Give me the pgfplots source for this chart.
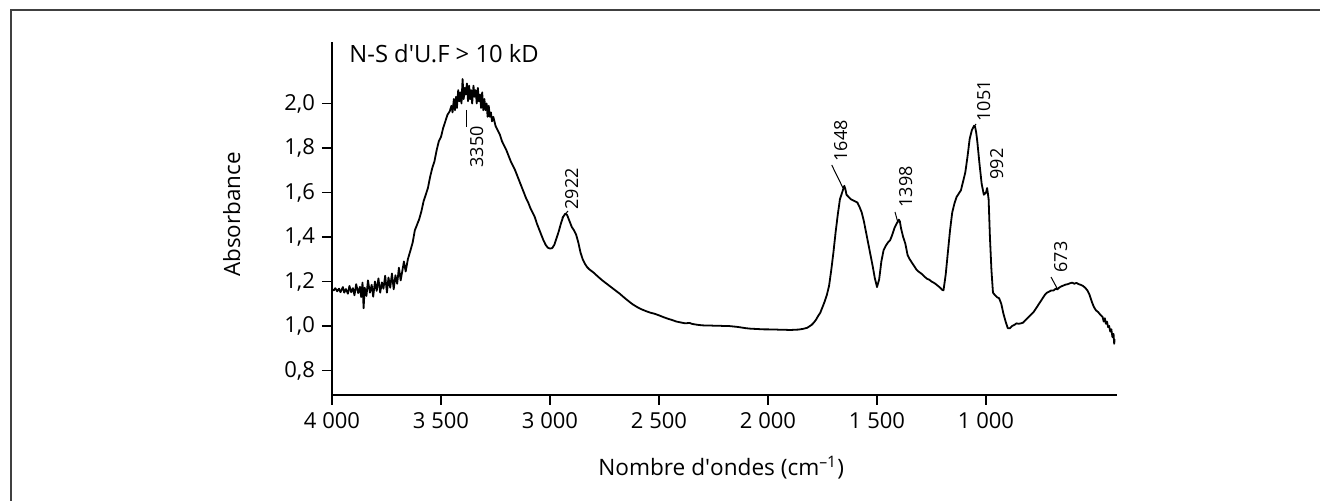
\documentclass[border=0pt]{standalone}
\usepackage{fontspec}
\setmainfont{Open Sans}
\newfontfamily\ofq{Open Sans}
\usepackage{pgfplots}
\pgfplotsset{compat=1.18}

% spectrum (wavenumber, absorbance)
\pgfplotstableread{
w v
4000 1.165
3992 1.160
3985 1.170
3976 1.156
3968 1.168
3961 1.152
3950 1.175
3944 1.150
3936 1.166
3927 1.145
3920 1.180
3912 1.152
3904 1.170
3897 1.138
3889 1.188
3880 1.148
3872 1.176
3866 1.130
3860 1.195
3855 1.080
3850 1.172
3842 1.135
3835 1.205
3826 1.150
3818 1.185
3811 1.132
3803 1.200
3795 1.158
3787 1.214
3779 1.150
3771 1.196
3764 1.168
3756 1.226
3748 1.150
3741 1.218
3733 1.172
3725 1.236
3717 1.165
3709 1.228
3701 1.190
3693 1.262
3685 1.205
3677 1.250
3670 1.290
3662 1.245
3652 1.300
3640 1.340
3630 1.375
3620 1.430
3610 1.455
3600 1.480
3590 1.515
3580 1.560
3570 1.590
3560 1.620
3550 1.670
3540 1.710
3530 1.740
3520 1.790
3510 1.830
3500 1.850
3490 1.890
3480 1.920
3470 1.950
3460 1.965
3452 1.99
3447 1.96
3441 2.02
3436 1.97
3431 2.03
3427 1.98
3421 2.06
3416 2.01
3411 2.05
3406 2.00
3401 2.11
3396 2.02
3391 2.07
3387 2.04
3381 2.09
3376 2.01
3371 2.08
3366 2.02
3362 2.06
3357 2.00
3351 2.08
3346 2.03
3341 2.06
3336 2.00
3331 2.07
3326 2.01
3321 2.04
3316 1.98
3311 2.05
3306 1.97
3301 2.02
3296 1.97
3291 2.00
3286 1.94
3281 1.99
3276 1.94
3271 1.96
3266 1.92
3260 1.94
3250 1.90
3240 1.88
3230 1.86
3220 1.83
3210 1.81
3200 1.79
3190 1.765
3180 1.74
3170 1.72
3160 1.70
3150 1.675
3140 1.65
3130 1.625
3120 1.60
3110 1.575
3100 1.555
3090 1.53
3080 1.51
3070 1.49
3060 1.46
3050 1.435
3040 1.41
3030 1.385
3020 1.365
3010 1.352
3000 1.348
2990 1.350
2980 1.365
2970 1.395
2960 1.425
2950 1.460
2940 1.490
2930 1.505
2922 1.500
2910 1.470
2900 1.445
2890 1.430
2880 1.410
2870 1.375
2860 1.330
2850 1.300
2840 1.280
2830 1.265
2820 1.255
2800 1.240
2780 1.222
2760 1.205
2740 1.190
2720 1.175
2700 1.160
2680 1.145
2660 1.128
2640 1.112
2620 1.097
2600 1.085
2580 1.075
2560 1.067
2540 1.060
2520 1.055
2500 1.048
2480 1.040
2460 1.033
2440 1.027
2420 1.020
2400 1.016
2380 1.012
2360 1.014
2350 1.010
2340 1.008
2320 1.005
2300 1.003
2280 1.002
2260 1.002
2240 1.001
2220 1.001
2200 1.000
2180 1.000
2160 0.998
2140 0.996
2120 0.993
2100 0.990
2080 0.988
2060 0.987
2040 0.986
2020 0.985
2000 0.985
1980 0.984
1960 0.984
1940 0.983
1920 0.983
1900 0.982
1880 0.983
1860 0.984
1840 0.987
1820 0.992
1800 1.005
1790 1.015
1780 1.028
1770 1.045
1760 1.060
1750 1.085
1740 1.110
1730 1.140
1720 1.180
1710 1.250
1700 1.330
1690 1.420
1680 1.500
1670 1.570
1660 1.600
1650 1.630
1645 1.615
1640 1.590
1630 1.580
1620 1.570
1610 1.565
1600 1.560
1590 1.555
1580 1.535
1570 1.510
1560 1.470
1550 1.420
1540 1.370
1530 1.320
1520 1.270
1510 1.215
1500 1.175
1490 1.210
1480 1.290
1470 1.340
1460 1.360
1450 1.375
1440 1.385
1430 1.410
1420 1.440
1410 1.460
1400 1.478
1395 1.470
1390 1.440
1380 1.400
1370 1.370
1360 1.320
1350 1.300
1340 1.285
1330 1.270
1320 1.255
1310 1.245
1300 1.238
1290 1.230
1280 1.220
1270 1.212
1260 1.208
1250 1.200
1240 1.195
1230 1.188
1220 1.180
1210 1.172
1200 1.162
1195 1.160
1185 1.230
1175 1.330
1165 1.430
1155 1.510
1145 1.550
1135 1.580
1125 1.595
1115 1.610
1105 1.650
1095 1.690
1085 1.760
1075 1.840
1065 1.880
1055 1.900
1050 1.895
1045 1.870
1040 1.830
1030 1.730
1020 1.640
1010 1.590
1000 1.600
995 1.620
992 1.600
988 1.570
982 1.400
975 1.250
968 1.150
960 1.140
950 1.130
940 1.125
930 1.100
920 1.055
910 1.020
900 0.990
890 0.990
880 1.000
870 1.005
860 1.012
850 1.010
840 1.012
830 1.015
820 1.025
810 1.035
800 1.045
790 1.055
780 1.065
770 1.080
760 1.095
750 1.110
740 1.125
730 1.140
720 1.150
710 1.155
700 1.160
690 1.160
680 1.168
673 1.165
665 1.172
655 1.178
645 1.182
635 1.186
625 1.188
615 1.192
605 1.195
595 1.190
585 1.194
575 1.188
565 1.185
555 1.180
545 1.172
535 1.160
525 1.140
515 1.110
505 1.085
495 1.070
485 1.062
475 1.050
465 1.040
460 1.020
455 1.035
450 1.010
445 1.020
440 0.995
435 1.000
430 0.975
425 0.985
420 0.950
415 0.965
412 0.920
410 0.940
}\spectrum

\begin{document}
\begin{tikzpicture}
\useasboundingbox (0,0) rectangle (660pt,250.5pt);
\draw[black!75, line width=1pt] (5.5pt,0) -- (5.5pt,245.5pt) -- (660pt,245.5pt);
\begin{axis}[
  at={(166pt,53pt)}, anchor=south west,
  scale only axis, width=392.4pt, height=176.5pt,
  x dir=reverse,
  xmin=400, xmax=4000, ymin=0.69, ymax=2.2764,
  axis lines*=left,
  axis line style={line width=0.6pt, black},
  tick style={line width=0.6pt, black},
  tick align=outside, major tick length=5pt,
  xtick={1000,1500,2000,2500,3000,3500,4000},
  xticklabels={1 000,1 500,2 000,2 500,3 000,3 500,4 000},
  ytick={0.8,1,1.2,1.4,1.6,1.8,2},
  yticklabels={{0,8},{1,0},{1,2},{1,4},{1,6},{1,8},{2,0}},
  ticklabel style={font=\fontsize{11}{13}\selectfont},
  clip=false,
]
\addplot[black, line width=0.9pt, line join=round] table[x=w, y=v] {\spectrum};
\end{axis}
% annotations in pixel coordinates of the reference
\begin{scope}[x=0.5pt, y=-0.5pt, yshift=250.5pt]
\node[anchor=base west, inner sep=0, font=\fontsize{11.9}{13}\selectfont]
  at (349,62.3) {N-S d{\ofq'}U.F > 10 kD};
\node[anchor=base west, inner sep=0, font=\fontsize{11.3}{13}\selectfont]
  at (598,475.7) {Nombre d{\ofq'}ondes (cm\textsuperscript{–1})};
\node[rotate=90, anchor=base, inner sep=0, font=\fontsize{11.2}{13}\selectfont]
  at (240,214.5) {Absorbance};
\tikzset{pk/.style={rotate=90, anchor=base west, inner sep=0, font=\fontsize{9}{10}\selectfont}}
\node[pk] at (483,168) {3350};
\node[pk] at (578,210) {2922};
\node[pk] at (847,162) {1648};
\node[pk] at (912,208) {1398};
\node[pk] at (990,122) {1051};
\node[pk] at (1003,180) {992};
\node[pk] at (1067,273) {673};
\draw[line width=0.5pt] (466,110) -- (466,127);
\draw[line width=0.5pt] (562,218) -- (568,211);
\draw[line width=0.5pt] (831.7,165) -- (843,188);
\draw[line width=0.5pt] (895,212) -- (898,223);
\draw[line width=0.5pt] (973,128) -- (976,124);
\draw[line width=0.5pt] (1051,277) -- (1058,290);
\end{scope}
\end{tikzpicture}
\end{document}
